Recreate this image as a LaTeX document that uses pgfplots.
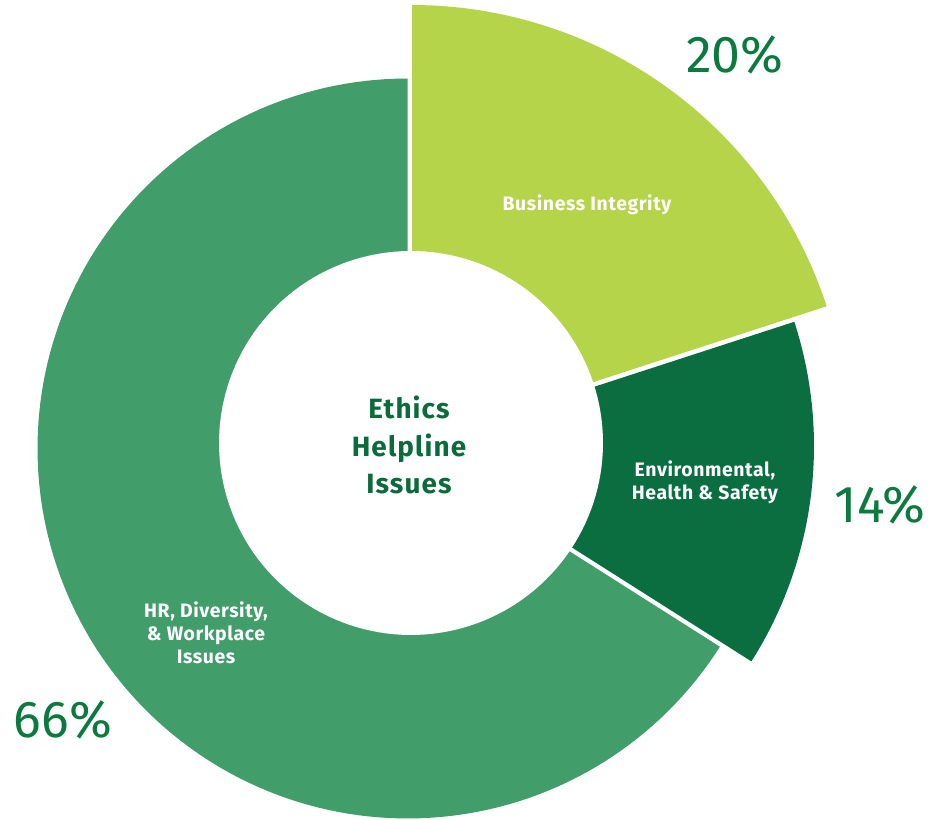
\documentclass[border=0pt]{standalone}
\usepackage{pgfplots}
\usepackage{pgfplotstable}
\pgfplotsset{compat=1.18}
\usepackage{fontspec}
\setmainfont{Fira Sans}
\newfontfamily\lblfont[LetterSpace=3]{Fira Sans}
\newfontfamily\ctrfont[LetterSpace=4]{Fira Sans}
\definecolor{biCol}{HTML}{B6D449}
\definecolor{envCol}{HTML}{0B6E41}
\definecolor{hrCol}{HTML}{419E6A}
\definecolor{pctCol}{HTML}{0B7A3E}
\definecolor{ctrCol}{HTML}{0B6B3A}
\pgfplotstableread{
label value
BI 20
Env 14
HR 66
}\data
\begin{document}
\begin{tikzpicture}
\pgfplotstablegetelem{0}{value}\of\data \let\vA\pgfplotsretval
\pgfplotstablegetelem{1}{value}\of\data \let\vB\pgfplotsretval
\pgfplotstablegetelem{2}{value}\of\data \let\vC\pgfplotsretval
\pgfmathsetmacro\aOne{90}
\pgfmathsetmacro\aTwo{\aOne-3.6*\vA}
\pgfmathsetmacro\aThree{\aTwo-3.6*\vB}
\pgfmathsetmacro\aFour{\aThree-3.6*\vC}
\begin{axis}[
  width=949bp, height=820bp, scale only axis,
  xmin=0, xmax=949, ymin=0, ymax=820,
  hide axis, clip=false,
]
\path (axis cs:0,0) rectangle (axis cs:949,820);
% HR, Diversity & Workplace
\addplot[fill=hrCol, draw=none, domain=\aFour:\aThree, samples=150, variable=\t]
  ({407.5+370*cos(\t)}, {371.5+370*sin(\t)}) -- (axis cs:407.5,371.5) -- cycle;
% Environmental, Health & Safety
\addplot[fill=envCol, draw=none, domain=\aThree:\aTwo, samples=60, variable=\t]
  ({412+402*cos(\t)}, {374+402*sin(\t)}) -- (axis cs:412,374) -- cycle;
% Business Integrity
\addplot[fill=biCol, draw=none, domain=\aTwo:\aOne, samples=80, variable=\t]
  ({412+436*cos(\t)}, {379+436*sin(\t)}) -- (axis cs:412,379) -- cycle;
% hole
\addplot[fill=white, draw=none, domain=0:360, samples=160, variable=\t]
  ({411+192*cos(\t)}, {377+192*sin(\t)}) -- cycle;

\node[text=white, font=\lblfont\bfseries\fontsize{19.5}{23}\selectfont, align=center] at (axis cs:587,615) {Business Integrity};
\node[text=white, font=\lblfont\bfseries\fontsize{19.5}{23}\selectfont, align=center] at (axis cs:705,338) {Environmental,\\Health \& Safety};
\node[text=white, font=\lblfont\bfseries\fontsize{19.5}{23}\selectfont, align=center] at (axis cs:206,187) {HR, Diversity,\\\& Workplace\\Issues};
\node[text=ctrCol, font=\ctrfont\bfseries\fontsize{28}{38}\selectfont, align=center] at (axis cs:409,375) {Ethics\\Helpline\\Issues};
\node[text=pctCol, font=\fontsize{52}{52}\selectfont] at (axis cs:735,765) {20\%};
\node[text=pctCol, font=\fontsize{52}{52}\selectfont] at (axis cs:880,315) {14\%};
\node[text=pctCol, font=\fontsize{52}{52}\selectfont] at (axis cs:63,100) {66\%};
\end{axis}
\end{tikzpicture}
\end{document}
